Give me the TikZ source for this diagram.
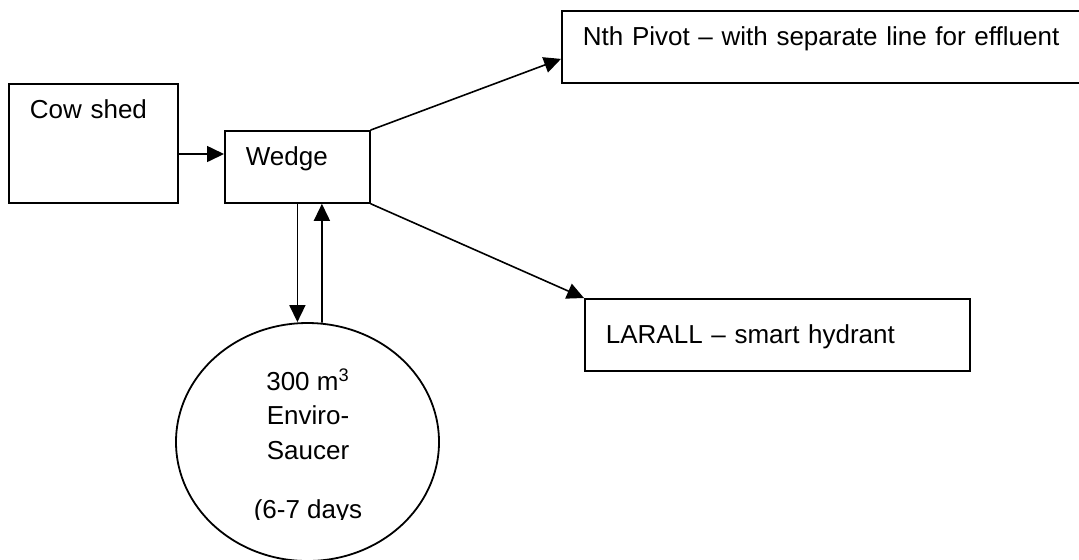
\documentclass[tikz,border=0pt]{standalone}
\usepackage{fontspec}
\setmainfont{Liberation Sans}
\usetikzlibrary{arrows.meta,shapes.geometric}

\begin{document}
\begin{tikzpicture}[x=0.5pt,y=-0.5pt,line cap=round,line join=miter,
    txt/.style={font=\fontsize{13}{17.25}\selectfont},
    blk/.style={txt,draw,line width=0.9pt,anchor=north west,align=left,
      inner xsep=10.5pt,inner ysep=0pt,text height=17.5pt},
    arr/.style={-{Triangle[length=8.5pt,width=8pt]},line width=0.8pt}]
  \useasboundingbox (0,0) rectangle (1079,559);
  \clip (0,0) rectangle (1079,559);
  \node[blk,text width=63.5pt,text depth=42pt] (cow) at (8,83) {Cow shed};
  \node[blk,text width=51.5pt,text depth=18.5pt] (wedge) at (224,130) {Wedge};
  \node[blk,text width=249pt,text depth=18.5pt] (pivot) at (561,10)
    {Nth Pivot -- with separate line for effluent};
  \node[blk,text width=171.5pt,text height=22.5pt,text depth=13.5pt] (larall) at (584,298)
    {LARALL -- smart hydrant};
  \node[draw,ellipse,line width=0.9pt,inner sep=0pt,minimum width=131.5pt,
    minimum height=119pt] (saucer) at (307.5,442) {};
  \begin{scope}
    \clip (0,0) rectangle (1079,519);
    \node[txt,align=center,anchor=base] (saucerlbl) at (308,518)
      {300 m\textsuperscript{3}\\Enviro-\\Saucer\\[12.25pt](6-7 days};
  \end{scope}
  \coordinate (feed) at (200,154);
  \coordinate (ret) at ([xshift=12.25pt]wedge.south);
  \draw[arr] (cow.east |- feed) -- (wedge.west |- feed);
  \draw[arr] (wedge.north east) -- ([yshift=-6pt]pivot.west);
  \draw[arr] (wedge.south east) -- (larall.north west);
  \draw[arr] (wedge.south) -- (wedge.south |- saucer.north);
  \draw[arr] (saucer.north -| ret) -- (ret);
\end{tikzpicture}
\end{document}
